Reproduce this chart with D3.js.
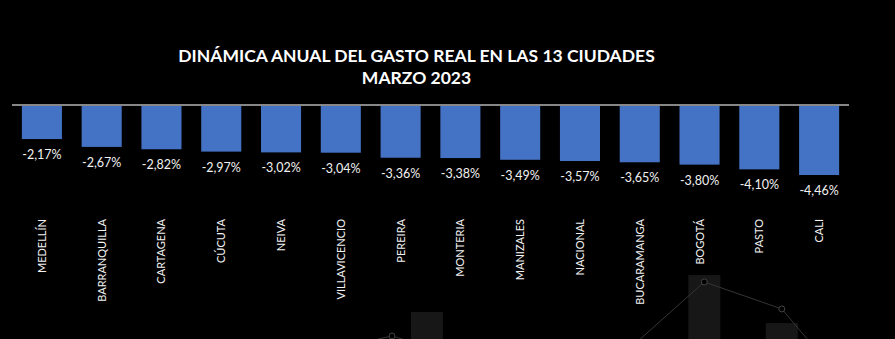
<!DOCTYPE html>
<html>
<head>
<meta charset="utf-8">
<script src="https://cdn.jsdelivr.net/npm/d3@7"></script>
<style>
  html, body { margin: 0; padding: 0; background: #000; }
  svg { display: block; }
  text { font-family: "Lato", "Open Sans", sans-serif; }
</style>
</head>
<body>
<svg id="chart" width="895" height="339"></svg>
<script>
// Annual change in real spending, 13 cities plus the national figure (March 2023)
const cities = ["MEDELLÍN", "BARRANQUILLA", "CARTAGENA", "CÚCUTA", "NEIVA", "VILLAVICENCIO",
  "PEREIRA", "MONTERIA", "MANIZALES", "NACIONAL", "BUCARAMANGA", "BOGOTÁ", "PASTO", "CALI"];
const growth = [-2.17, -2.67, -2.82, -2.97, -3.02, -3.04, -3.36, -3.38, -3.49, -3.57, -3.65, -3.80, -4.10, -4.46];
const titleLines = ["DINÁMICA ANUAL DEL GASTO REAL EN LAS 13 CIUDADES", "MARZO 2023"];

// Dim slide backdrop: a column-and-line combo peeking in at the bottom edge
const backdropBarPos = [4.45, 8.03, 9.03];
const backdropBarVal = [58.7, 83.3, 51.3];
const backdropLinePos = [3, 4, 5, 6, 7, 8.03, 9.03, 10];
const backdropLineVal = [30.7, 42.7, 26.7, 13.3, 31.3, 78.7, 60.7, 1.3];
const backdropMarked = [false, true, false, false, false, true, true, false];

const svg = d3.select("#chart");
const W = 895, H = 339;

svg.append("rect").attr("width", W).attr("height", H).attr("fill", "#000");

// ---- backdrop ----
const bx = d3.scaleLinear().domain([0, 10]).range([82, 857]);
const by = d3.scaleLinear().domain([0, 100]).range([400, 250]);
const bdrop = svg.append("g").attr("class", "backdrop");
bdrop.selectAll("rect").data(backdropBarPos.map((p, i) => ({p, v: backdropBarVal[i]})))
  .join("rect")
  .attr("x", d => bx(d.p) - 16).attr("width", 32)
  .attr("y", d => by(d.v)).attr("height", d => by(0) - by(d.v))
  .attr("fill", "#171717");
const linePts = backdropLinePos.map((p, i) => ({p, v: backdropLineVal[i], m: backdropMarked[i]}));
bdrop.append("path")
  .attr("d", d3.line().x(d => bx(d.p)).y(d => by(d.v))(linePts))
  .attr("stroke", "#353535").attr("stroke-width", 1).attr("fill", "none");
bdrop.selectAll("circle").data(linePts.filter(d => d.m))
  .join("circle")
  .attr("cx", d => bx(d.p)).attr("cy", d => by(d.v)).attr("r", 3)
  .attr("fill", "#000").attr("stroke", "#444");

// ---- main chart ----
const x = d3.scaleBand().domain(cities).range([12, 849]).paddingInner(0.33).paddingOuter(0.165);
const y = d3.scaleLinear().domain([0, -4.46]).range([105, 175]);

const fmt = v => d3.format(".2f")(v).replace(".", ",").replace("−", "-") + "%";

svg.selectAll("rect.bar").data(cities.map((c, i) => ({c, v: growth[i]})))
  .join("rect").attr("class", "bar")
  .attr("x", d => x(d.c)).attr("width", x.bandwidth())
  .attr("y", y(0) + 1).attr("height", d => y(d.v) - y(0) - 1)
  .attr("fill", "#4472C4");

svg.append("line")
  .attr("x1", 12).attr("x2", 849).attr("y1", y(0)).attr("y2", y(0))
  .attr("stroke", "#b4b4b4").attr("stroke-width", 1.3);

svg.selectAll("text.val").data(cities.map((c, i) => ({c, v: growth[i]})))
  .join("text").attr("class", "val")
  .attr("x", d => x(d.c) + x.bandwidth() / 2)
  .attr("y", d => y(d.v) + 20)
  .attr("text-anchor", "middle")
  .attr("fill", "#f2f2f2").attr("font-size", 12.5)
  .text(d => fmt(d.v));

svg.selectAll("text.cat").data(cities)
  .join("text").attr("class", "cat")
  .attr("transform", d => `translate(${x(d) + x.bandwidth() / 2 + 4},219) rotate(-90)`)
  .attr("text-anchor", "end")
  .attr("fill", "#f2f2f2").attr("font-size", 11)
  .text(d => d);

svg.selectAll("text.title").data(titleLines)
  .join("text").attr("class", "title")
  .attr("x", 416.5).attr("y", (d, i) => 61.5 + i * 22)
  .attr("text-anchor", "middle")
  .attr("fill", "#fff").attr("font-weight", "bold").attr("font-size", 17.5)
  .text(d => d);
</script>
</body>
</html>
